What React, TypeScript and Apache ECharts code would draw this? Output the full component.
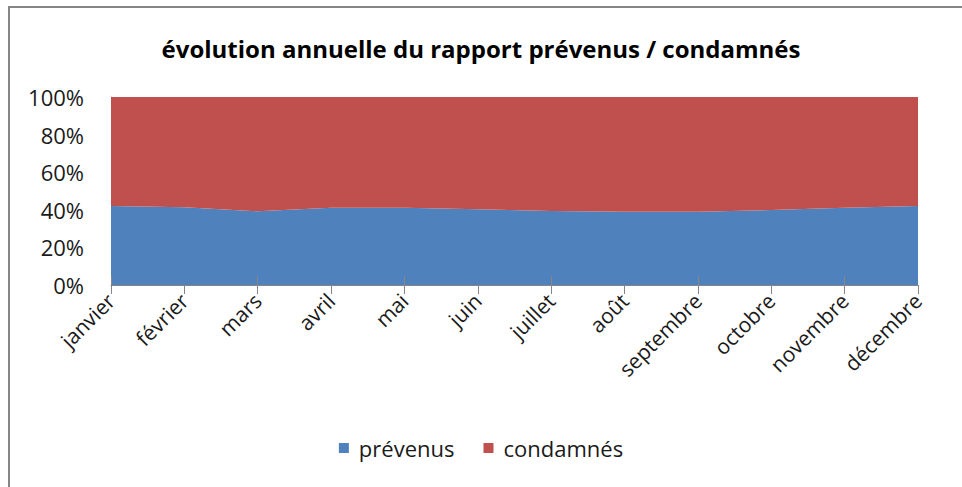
import React, { useEffect, useRef } from "react";
import * as echarts from "echarts";

const months = [
  "janvier", "février", "mars", "avril", "mai", "juin",
  "juillet", "août", "septembre", "octobre", "novembre", "décembre",
];
const prevenus = [42.0, 41.3, 39.2, 41.1, 41.1, 40.3, 39.4, 39.0, 39.0, 39.9, 41.1, 42.0];
const condamnes = [58.0, 58.7, 60.8, 58.9, 58.9, 59.7, 60.6, 61.0, 61.0, 60.1, 58.9, 58.0];
const yTicks = [0, 20, 40, 60, 80, 100];

const FONT = "'Open Sans', 'Noto Sans', sans-serif";

export default function App() {
  const ref = useRef<HTMLDivElement>(null);
  useEffect(() => {
    if (!ref.current) return;
    const chart = echarts.init(ref.current, undefined, { renderer: "svg" });
    chart.setOption({
      animation: false,
      backgroundColor: "#ffffff",
      title: {
        text: "évolution annuelle du rapport prévenus / condamnés",
        left: "center",
        top: 31,
        textStyle: { fontFamily: FONT, fontSize: 24, fontWeight: "bold", color: "#000" },
      },
      legend: {
        bottom: 23,
        left: "center",
        itemWidth: 10,
        itemHeight: 10,
        itemGap: 29,
        icon: "rect",
        textStyle: { fontFamily: FONT, fontSize: 22, color: "#1a1a1a", padding: [0, 0, 0, 5] },
        data: ["prévenus", "condamnés"],
      },
      grid: { left: 111, right: 44, top: 97, bottom: 202 },
      xAxis: [
        {
          type: "category",
          data: months,
          boundaryGap: false,
          axisLine: { lineStyle: { color: "#868686", width: 1 } },
          axisTick: { show: true, length: 9, lineStyle: { color: "#868686" } },
          axisLabel: {
            rotate: 45,
            interval: 0,
            margin: 12,
            fontFamily: FONT,
            fontSize: 21,
            color: "#1a1a1a",
          },
        },
        {
          type: "category",
          data: months,
          boundaryGap: false,
          position: "bottom",
          axisLine: { show: false },
          axisTick: { show: true, inside: true, length: 9, lineStyle: { color: "#868686" } },
          axisLabel: { show: false },
          z: 10,
        },
      ],
      yAxis: {
        type: "value",
        min: 0,
        max: 100,
        interval: 20,
        axisLine: { show: true, lineStyle: { color: "#bfbfbf" } },
        axisTick: { show: false },
        splitLine: { show: false },
        axisLabel: {
          formatter: (v: number) => (yTicks.includes(v) ? v + "%" : ""),
          margin: 27,
          fontFamily: FONT,
          fontSize: 22,
          color: "#1a1a1a",
        },
      },
      series: [
        {
          name: "prévenus",
          type: "line",
          stack: "total",
          data: prevenus,
          symbol: "none",
          lineStyle: { width: 0 },
          areaStyle: { color: "#4F81BD", opacity: 1 },
          itemStyle: { color: "#4F81BD" },
        },
        {
          name: "condamnés",
          type: "line",
          stack: "total",
          data: condamnes,
          symbol: "none",
          lineStyle: { width: 0 },
          areaStyle: { color: "#C0504D", opacity: 1 },
          itemStyle: { color: "#C0504D" },
        },
      ],
      graphic: [
        {
          type: "rect",
          shape: { x: 9, y: 7, width: 1200, height: 1200 },
          style: { fill: "none", stroke: "#868686", lineWidth: 2 },
          silent: true,
        },
      ],
    });
    return () => chart.dispose();
  }, []);
  return (
    <div
      ref={ref}
      style={{ position: "fixed", left: 0, top: 0, width: 962, height: 487 }}
    />
  );
}
